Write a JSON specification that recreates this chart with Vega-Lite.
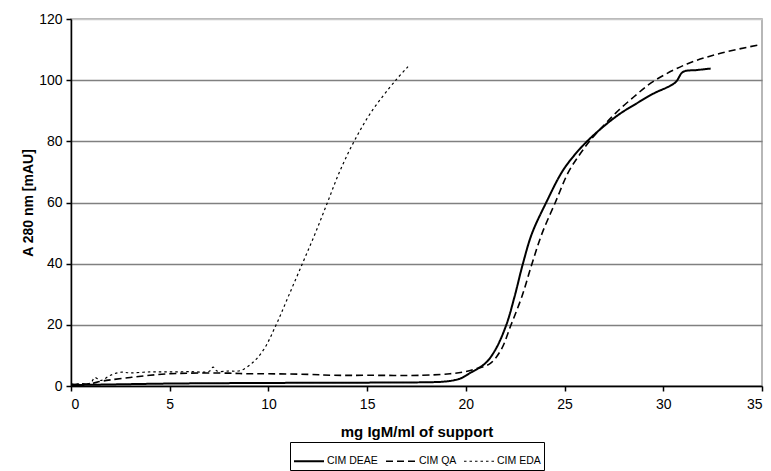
{
  "$schema": "https://vega.github.io/schema/vega-lite/v6.json",
  "autosize": "none",
  "width": 691,
  "height": 367,
  "padding": {"left": 71, "top": 19, "right": 9, "bottom": 85},
  "background": "white",
  "config": {
    "font": "Liberation Sans",
    "view": {"stroke": "#a0a0a0", "strokeWidth": 1.5}
  },
  "data": {
    "values": [
      {"s": "CIM DEAE", "x": 0, "y": 0.3}, {"s": "CIM DEAE", "x": 2, "y": 0.5}, {"s": "CIM DEAE", "x": 5, "y": 0.8},
      {"s": "CIM DEAE", "x": 10, "y": 1.0}, {"s": "CIM DEAE", "x": 15, "y": 1.1}, {"s": "CIM DEAE", "x": 17.7, "y": 1.2},
      {"s": "CIM DEAE", "x": 19, "y": 1.5}, {"s": "CIM DEAE", "x": 19.7, "y": 2.4}, {"s": "CIM DEAE", "x": 20.2, "y": 4.2},
      {"s": "CIM DEAE", "x": 20.98, "y": 7.4}, {"s": "CIM DEAE", "x": 21.49, "y": 11.8}, {"s": "CIM DEAE", "x": 22.05, "y": 20},
      {"s": "CIM DEAE", "x": 22.47, "y": 29.3}, {"s": "CIM DEAE", "x": 22.89, "y": 40}, {"s": "CIM DEAE", "x": 23.35, "y": 49.9},
      {"s": "CIM DEAE", "x": 24.07, "y": 60}, {"s": "CIM DEAE", "x": 24.87, "y": 70}, {"s": "CIM DEAE", "x": 25.5, "y": 75.5},
      {"s": "CIM DEAE", "x": 26.14, "y": 80}, {"s": "CIM DEAE", "x": 27.0, "y": 85}, {"s": "CIM DEAE", "x": 27.8, "y": 89},
      {"s": "CIM DEAE", "x": 28.7, "y": 92.6}, {"s": "CIM DEAE", "x": 29.5, "y": 95.6},
      {"s": "CIM DEAE", "x": 30.6, "y": 99.2}, {"s": "CIM DEAE", "x": 31.0, "y": 102.7}, {"s": "CIM DEAE", "x": 31.7, "y": 103.3},
      {"s": "CIM DEAE", "x": 32.4, "y": 103.8},

      {"s": "CIM QA", "x": 0, "y": 0.5}, {"s": "CIM QA", "x": 0.5, "y": 0.6}, {"s": "CIM QA", "x": 1, "y": 0.8},
      {"s": "CIM QA", "x": 1.5, "y": 1.5}, {"s": "CIM QA", "x": 2, "y": 2.0}, {"s": "CIM QA", "x": 3, "y": 2.8},
      {"s": "CIM QA", "x": 4, "y": 3.5}, {"s": "CIM QA", "x": 5, "y": 4.0}, {"s": "CIM QA", "x": 6, "y": 4.2},
      {"s": "CIM QA", "x": 8, "y": 4.2}, {"s": "CIM QA", "x": 8.9, "y": 4.0}, {"s": "CIM QA", "x": 10, "y": 4.0},
      {"s": "CIM QA", "x": 12, "y": 3.8}, {"s": "CIM QA", "x": 13.3, "y": 3.5}, {"s": "CIM QA", "x": 15, "y": 3.5},
      {"s": "CIM QA", "x": 17.8, "y": 3.5}, {"s": "CIM QA", "x": 19.2, "y": 4.0}, {"s": "CIM QA", "x": 19.9, "y": 4.6},
      {"s": "CIM QA", "x": 20.5, "y": 5.6}, {"s": "CIM QA", "x": 21.24, "y": 7.4}, {"s": "CIM QA", "x": 21.78, "y": 11.8},
      {"s": "CIM QA", "x": 22.29, "y": 20}, {"s": "CIM QA", "x": 22.84, "y": 29.3}, {"s": "CIM QA", "x": 23.35, "y": 40},
      {"s": "CIM QA", "x": 23.86, "y": 49.9}, {"s": "CIM QA", "x": 24.53, "y": 60}, {"s": "CIM QA", "x": 25.2, "y": 70},
      {"s": "CIM QA", "x": 25.8, "y": 76}, {"s": "CIM QA", "x": 26.3, "y": 80.3}, {"s": "CIM QA", "x": 27.0, "y": 85.3},
      {"s": "CIM QA", "x": 27.6, "y": 89.3}, {"s": "CIM QA", "x": 28.5, "y": 94.5},
      {"s": "CIM QA", "x": 29.5, "y": 99.6}, {"s": "CIM QA", "x": 31.2, "y": 105.3}, {"s": "CIM QA", "x": 32.9, "y": 108.8},
      {"s": "CIM QA", "x": 34.9, "y": 111.6},

      {"s": "CIM EDA", "x": 0, "y": 0.6}, {"s": "CIM EDA", "x": 0.5, "y": 0.7}, {"s": "CIM EDA", "x": 1.0, "y": 1.0},
      {"s": "CIM EDA", "x": 1.2, "y": 2.8}, {"s": "CIM EDA", "x": 1.5, "y": 1.8}, {"s": "CIM EDA", "x": 2.0, "y": 3.5},
      {"s": "CIM EDA", "x": 2.5, "y": 4.5}, {"s": "CIM EDA", "x": 3, "y": 4.3}, {"s": "CIM EDA", "x": 4, "y": 4.6},
      {"s": "CIM EDA", "x": 5, "y": 4.6}, {"s": "CIM EDA", "x": 6, "y": 4.7}, {"s": "CIM EDA", "x": 7, "y": 4.8},
      {"s": "CIM EDA", "x": 7.2, "y": 6.2}, {"s": "CIM EDA", "x": 7.4, "y": 4.9}, {"s": "CIM EDA", "x": 8, "y": 4.9},
      {"s": "CIM EDA", "x": 8.57, "y": 5.0}, {"s": "CIM EDA", "x": 9.16, "y": 7.4}, {"s": "CIM EDA", "x": 9.75, "y": 11.8},
      {"s": "CIM EDA", "x": 10.39, "y": 20}, {"s": "CIM EDA", "x": 11.01, "y": 29.3}, {"s": "CIM EDA", "x": 11.72, "y": 40},
      {"s": "CIM EDA", "x": 12.37, "y": 49.9}, {"s": "CIM EDA", "x": 12.99, "y": 60}, {"s": "CIM EDA", "x": 13.6, "y": 70},
      {"s": "CIM EDA", "x": 14.3, "y": 79.5}, {"s": "CIM EDA", "x": 15.2, "y": 89.5}, {"s": "CIM EDA", "x": 16.45, "y": 100},
      {"s": "CIM EDA", "x": 17.07, "y": 104.4}
    ]
  },
  "mark": {"type": "line", "color": "black", "interpolate": "catmull-rom"},
  "encoding": {
    "x": {
      "field": "x", "type": "quantitative",
      "scale": {"domain": [0, 35], "nice": false, "zero": true},
      "axis": {
        "title": "mg IgM/ml of support", "titleFont": "Liberation Sans", "titleFontSize": 15, "titleFontWeight": "bold",
        "titleColor": "black", "titlePadding": 13,
        "values": [0, 5, 10, 15, 20, 25, 30, 35], "grid": false,
        "domainColor": "black", "domainWidth": 1.5, "tickColor": "black", "tickSize": 5, "tickWidth": 1.5,
        "labelFontSize": 14, "labelColor": "black", "labelPadding": 6
      }
    },
    "y": {
      "field": "y", "type": "quantitative",
      "scale": {"domain": [0, 120], "nice": false},
      "axis": {
        "title": "A 280 nm [mAU]", "titleFontSize": 14, "titleFontWeight": "bold", "titleColor": "black", "titlePadding": 3,
        "values": [0, 20, 40, 60, 80, 100, 120], "grid": true,
        "gridColor": {"condition": {"test": "datum.value == 120", "value": "#c8c8c8"}, "value": "#808080"},
        "gridWidth": 1.5,
        "domainColor": "black", "domainWidth": 1.5, "tickColor": "black", "tickSize": 5, "tickWidth": 1.5,
        "labelFontSize": 14, "labelColor": "black", "labelPadding": 4
      }
    },
    "strokeDash": {
      "field": "s", "type": "nominal",
      "scale": {"domain": ["CIM DEAE", "CIM QA", "CIM EDA"], "range": [[1, 0], [7, 4], [2.5, 3]]},
      "legend": {
        "title": null, "orient": "none", "legendX": 219, "legendY": 423, "direction": "horizontal",
        "symbolType": "stroke", "symbolStrokeColor": "black", "symbolSize": 900, "symbolStrokeWidth": 1.5,
        "labelFontSize": 10.5, "labelColor": "black", "labelOffset": 2, "columnPadding": 4,
        "strokeColor": "black", "padding": 3, "fillColor": "white"
      }
    },
    "strokeWidth": {
      "field": "s", "type": "nominal",
      "scale": {"domain": ["CIM DEAE", "CIM QA", "CIM EDA"], "range": [2, 1.2, 3]},
      "legend": null
    }
  }
}
